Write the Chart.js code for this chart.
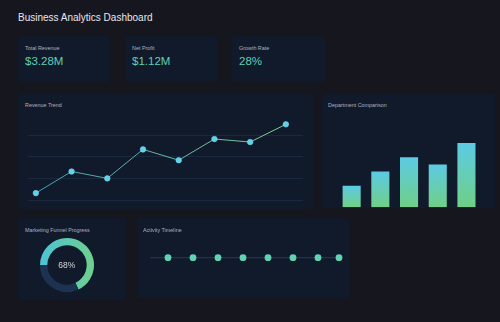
<!DOCTYPE html>
<html>
<head>
<meta charset="utf-8">
<script src="https://cdn.jsdelivr.net/npm/chart.js@4.4.1/dist/chart.umd.min.js"></script>
<style>
  * { box-sizing: border-box; }
  html, body {
    margin: 0;
    width: 500px;
    height: 322px;
    overflow: hidden;
    background: #15161e;
    font-family: 'Liberation Sans', Arial, sans-serif;
  }
  .title {
    position: absolute;
    left: 18px;
    top: 12px;
    font-size: 10px;
    color: #e6e8ee;
  }
  .card {
    position: absolute;
    background: #111a2a;
    border-radius: 3px;
  }
  .label {
    position: absolute;
    font-size: 5.4px;
    color: #a9b2c4;
    white-space: nowrap;
  }
  .value {
    position: absolute;
    font-size: 11.5px;
    color: #5fcfb4;
    white-space: nowrap;
  }
  canvas { position: absolute; }
  .pct {
    position: absolute;
    font-size: 8.5px;
    color: #d4d8e0;
    transform: translate(-50%, -50%);
  }
</style>
</head>
<body>
<div class="title">Business Analytics Dashboard</div>

<div class="card" style="left:18px;top:36px;width:92px;height:46px"></div>
<div class="card" style="left:125px;top:36px;width:92px;height:46px"></div>
<div class="card" style="left:232px;top:36px;width:93px;height:46px"></div>
<div class="label" style="left:25px;top:45px">Total Revenue</div>
<div class="label" style="left:132px;top:45px">Net Profit</div>
<div class="label" style="left:239px;top:45px">Growth Rate</div>
<div class="value" style="left:25px;top:55px">$3.28M</div>
<div class="value" style="left:132px;top:55px">$1.12M</div>
<div class="value" style="left:239px;top:55px">28%</div>

<div class="card" style="left:18px;top:94px;width:295px;height:115px"></div>
<div class="label" style="left:25px;top:102px">Revenue Trend</div>
<canvas id="trend" width="295" height="115" style="left:18px;top:94px"></canvas>

<div class="card" style="left:322px;top:94px;width:173px;height:114px"></div>
<div class="label" style="left:328px;top:102px">Department Comparison</div>
<canvas id="dept" width="173" height="114" style="left:322px;top:94px"></canvas>

<div class="card" style="left:18px;top:218px;width:108px;height:82px"></div>
<div class="label" style="left:25px;top:227px">Marketing Funnel Progress</div>
<canvas id="funnel" width="56" height="56" style="left:38.7px;top:237px"></canvas>
<div class="pct" style="left:66.7px;top:265px">68%</div>

<div class="card" style="left:137px;top:218px;width:212px;height:80px"></div>
<div class="label" style="left:143px;top:227px">Activity Timeline</div>
<canvas id="timeline" width="212" height="80" style="left:137px;top:218px"></canvas>

<script>
const months = ["Jan", "Feb", "Mar", "Apr", "May", "Jun", "Jul", "Aug"];
const revenue = [116, 166, 150, 217, 192, 241, 234, 275];

const departments = ["Sales", "Marketing", "Product", "Support", "Engineering"];
const deptValues = [30, 50, 70, 60, 90];

const funnelDone = 68;
const funnelLeft = 32;

const timelineSpan = [0, 190];
const events = [18, 43, 68, 93, 118, 143, 168, 189];

Chart.defaults.animation = false;
Chart.defaults.responsive = false;

// revenue trend (x is month index so the grid can run past the first/last point)
new Chart(document.getElementById("trend"), {
  type: "line",
  data: {
    labels: months,
    datasets: [{
      data: revenue.map((v, i) => ({ x: i, y: v })),
      borderWidth: 1,
      tension: 0,
      clip: false,
      borderColor: (ctx) => {
        const area = ctx.chart.chartArea;
        if (!area) return "#5bb8b0";
        const g = ctx.chart.ctx.createLinearGradient(area.left, 0, area.right, 0);
        g.addColorStop(0, "#3f9fb8");
        g.addColorStop(1, "#86cf8e");
        return g;
      },
      pointRadius: 2.8,
      pointBackgroundColor: "#5dd2ea",
      pointBorderColor: "#7fdcef",
      pointBorderWidth: 0.5
    }]
  },
  options: {
    layout: { padding: { left: 10, right: 10, top: 19.5, bottom: 9 } },
    plugins: { legend: { display: false }, tooltip: { enabled: false } },
    scales: {
      x: { type: "linear", display: false, min: -0.22, max: 7.48 },
      y: {
        min: 100,
        max: 300,
        ticks: { display: false, stepSize: 50 },
        border: { display: false },
        grid: {
          drawTicks: false,
          lineWidth: 1,
          color: (ctx) => (ctx.tick && ctx.tick.value === 300 ? "transparent" : "#1b2940")
        }
      }
    }
  }
});

// department comparison
new Chart(document.getElementById("dept"), {
  type: "bar",
  data: {
    labels: departments,
    datasets: [{
      data: deptValues,
      categoryPercentage: 1,
      barPercentage: 0.63,
      borderWidth: 0,
      backgroundColor: (ctx) => {
        const chart = ctx.chart;
        if (!chart.chartArea || !chart.scales.y) return "#63cdb4";
        const y = chart.scales.y;
        const top = y.getPixelForValue(ctx.raw);
        const bottom = y.getPixelForValue(0);
        const g = chart.ctx.createLinearGradient(0, top, 0, bottom);
        g.addColorStop(0, "#5ccbe4");
        g.addColorStop(1, "#6fcf86");
        return g;
      }
    }]
  },
  options: {
    layout: { padding: { left: 15.3, right: 14.2, top: 41.8, bottom: 0.7 } },
    plugins: { legend: { display: false }, tooltip: { enabled: false } },
    scales: {
      x: { display: false },
      y: { display: false, min: 0, max: 100 }
    }
  }
});

// marketing funnel
new Chart(document.getElementById("funnel"), {
  type: "doughnut",
  data: {
    labels: ["Converted", "Remaining"],
    datasets: [{
      data: [funnelDone, funnelLeft],
      borderWidth: 0,
      backgroundColor: (ctx) => {
        if (ctx.dataIndex === 1) return "#1d3150";
        const area = ctx.chart.chartArea;
        if (!area) return "#5ccfb0";
        const g = ctx.chart.ctx.createLinearGradient(area.left, 0, area.right, 0);
        g.addColorStop(0, "#4cc3d6");
        g.addColorStop(1, "#6fd08c");
        return g;
      }
    }]
  },
  options: {
    rotation: -90,
    cutout: "73%",
    layout: { padding: 1 },
    plugins: { legend: { display: false }, tooltip: { enabled: false } }
  }
});

// activity timeline
new Chart(document.getElementById("timeline"), {
  type: "scatter",
  data: {
    datasets: [
      {
        data: events.map((x) => ({ x, y: 0 })),
        pointRadius: 3.4,
        pointBackgroundColor: "#63d2b2",
        pointBorderWidth: 0,
        clip: false
      },
      {
        data: timelineSpan.map((x) => ({ x, y: 0 })),
        showLine: true,
        borderColor: "#24385a",
        borderWidth: 1,
        pointRadius: 0
      }
    ]
  },
  options: {
    layout: { padding: { left: 13, right: 9, top: 19.7, bottom: 20.3 } },
    plugins: { legend: { display: false }, tooltip: { enabled: false } },
    scales: {
      x: { display: false, min: 0, max: 190 },
      y: { display: false, min: -1, max: 1 }
    }
  }
});
</script>
</body>
</html>
